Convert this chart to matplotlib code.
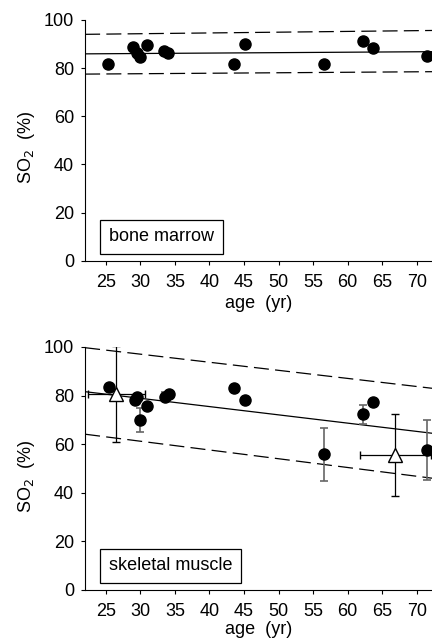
import matplotlib.pyplot as plt

plt.rcParams['font.family'] = ['Liberation Sans', 'DejaVu Sans']
plt.rcParams['font.size'] = 13

# bone marrow
bm_age = [25.3, 29.0, 29.5, 30.0, 30.9, 33.4, 34.0, 43.5, 45.2, 56.6, 62.2, 63.6, 71.5]
bm_so2 = [81.7, 88.7, 86.4, 84.4, 89.6, 87.1, 86.2, 81.7, 89.9, 81.7, 91.4, 88.2, 85.2]
bm_fit_age = [22.0, 72.2]
bm_fit = [85.9, 86.8]
bm_upper = [94.0, 95.6]
bm_lower = [77.5, 78.5]

# skeletal muscle
sm_age = [25.4, 29.2, 29.5, 30.0, 30.9, 33.5, 34.1, 43.5, 45.2, 56.6, 62.2, 63.6, 71.5]
sm_so2 = [83.4, 78.2, 79.3, 70.0, 75.7, 79.6, 80.7, 83.1, 78.2, 55.8, 72.3, 77.5, 57.6]
sm_err = [0, 0, 0, 4.8, 0, 1.8, 0, 0, 0, 10.9, 3.8, 0, 12.4]
sm_grp_age = [26.5, 66.9]
sm_grp_so2 = [80.6, 55.6]
sm_grp_yerr = [19.6, 16.8]
sm_grp_xerr = [4.1, 5.1]
sm_fit_age = [22.0, 72.2]
sm_fit = [81.6, 64.5]
sm_upper = [99.7, 83.0]
sm_lower = [64.1, 46.0]

fig = plt.figure(figsize=(4.32, 6.41), dpi=100)
ax1 = fig.add_axes([0.197, 0.593, 0.803, 0.376])
ax2 = fig.add_axes([0.197, 0.0796, 0.803, 0.3791])

dash = (0, (12, 5))


def style(ax, label, xlab_y):
    ax.set_xlim(22, 72.2)
    ax.set_ylim(0, 100)
    ax.set_xticks(range(25, 71, 5))
    ax.set_yticks(range(0, 101, 20))
    ax.spines['top'].set_visible(False)
    ax.spines['right'].set_visible(False)
    ax.tick_params(direction='out', length=3, width=0.8)
    ax.tick_params(axis='x', pad=6.5)
    ax.tick_params(axis='y', pad=5)
    ax.set_xlabel('age  (yr)')
    ax.set_ylabel('SO$_2$  (%)')
    ax.xaxis.set_label_coords(0.5, xlab_y)
    ax.yaxis.set_label_coords(-0.14, 0.47)
    ax.text(25.45, 10, label, fontsize=13, va='center', ha='left',
            bbox=dict(boxstyle='square,pad=0.48', fc='white', ec='black', lw=0.9))


ax1.plot(bm_fit_age, bm_fit, color='black', lw=0.9)
ax1.plot(bm_fit_age, bm_upper, color='black', lw=0.9, ls=dash)
ax1.plot(bm_fit_age, bm_lower, color='black', lw=0.9, ls=dash)
ax1.plot(bm_age, bm_so2, 'o', color='black', ms=8, clip_on=False, zorder=3)
style(ax1, 'bone marrow', -0.142)

ax2.plot(sm_fit_age, sm_fit, color='black', lw=0.9)
ax2.plot(sm_fit_age, sm_upper, color='black', lw=0.9, ls=dash)
ax2.plot(sm_fit_age, sm_lower, color='black', lw=0.9, ls=dash)
ax2.errorbar(sm_age, sm_so2, yerr=sm_err, fmt='none', ecolor='#666666',
             elinewidth=1.2, capsize=3, capthick=1.2)
ax2.plot(sm_age, sm_so2, 'o', color='black', ms=8, clip_on=False, zorder=3)
ax2.errorbar(sm_grp_age, sm_grp_so2, yerr=sm_grp_yerr, xerr=sm_grp_xerr,
             fmt='^', mfc='white', mec='black', ms=10.5, mew=1.0,
             ecolor='black', elinewidth=0.9, capsize=3, capthick=0.9, zorder=4)
style(ax2, 'skeletal muscle', -0.128)

fig.savefig('out.png', dpi=100)
